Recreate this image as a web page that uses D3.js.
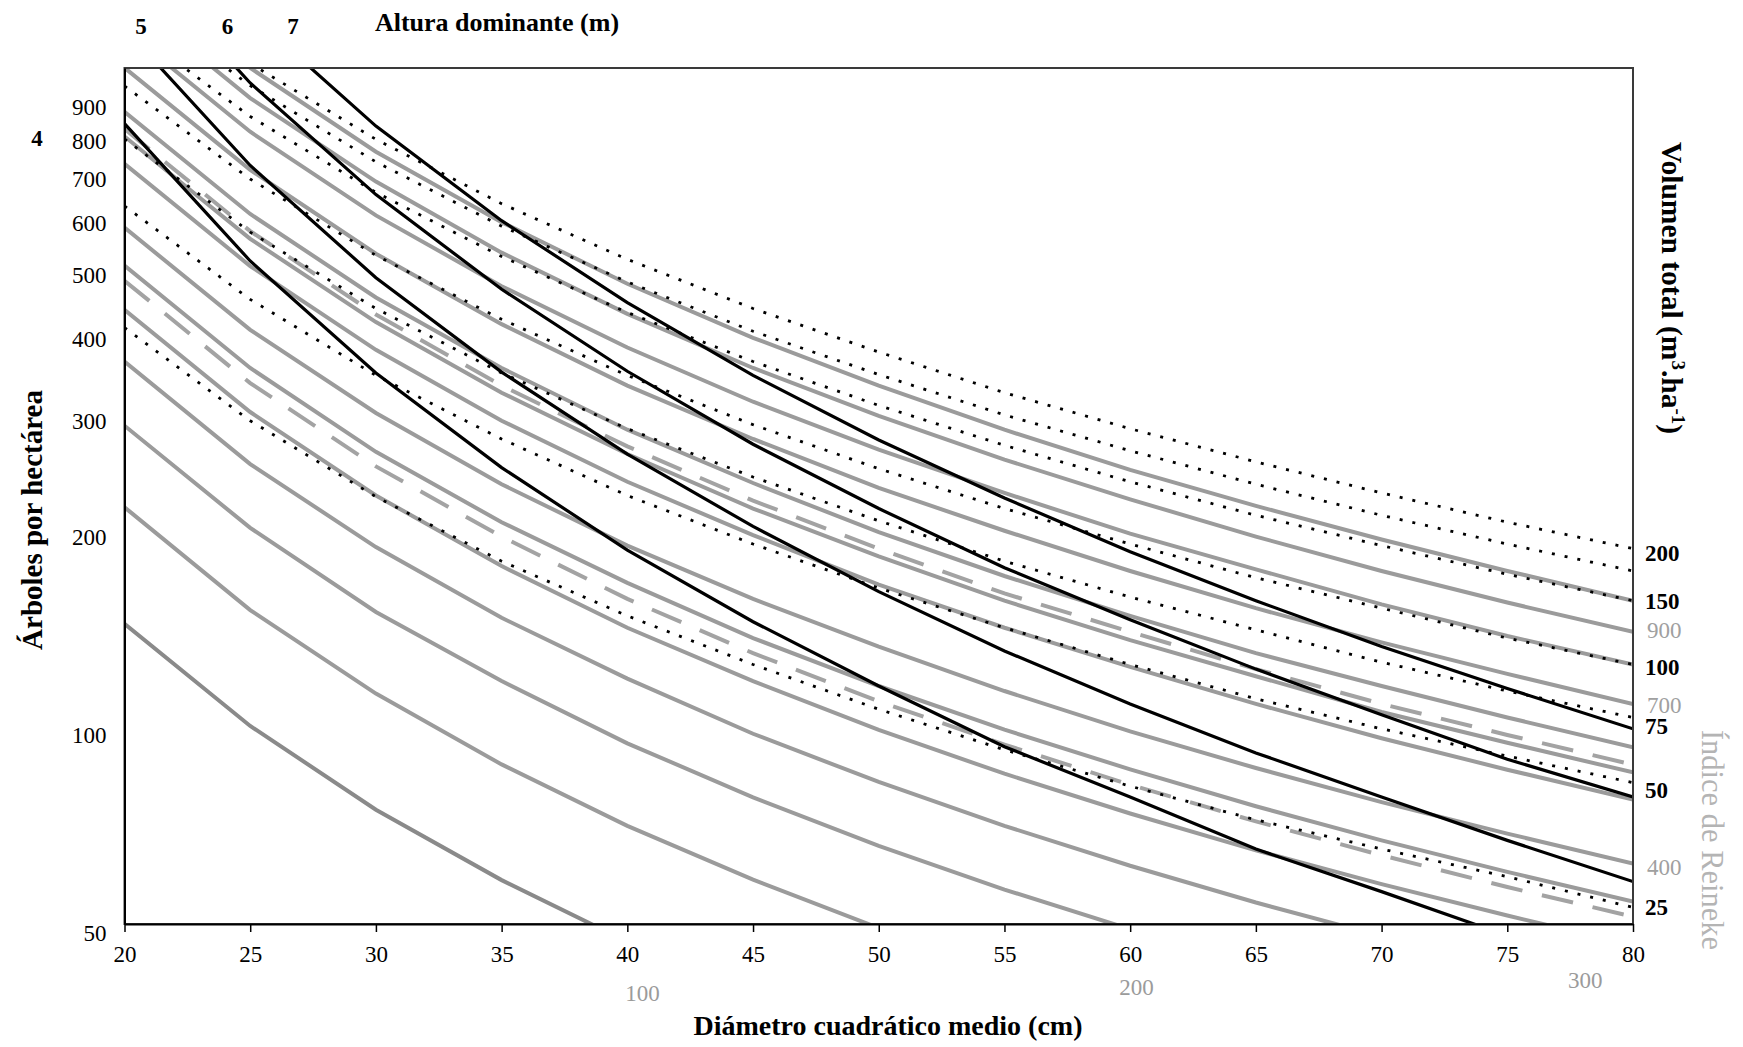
<!DOCTYPE html>
<html>
<head>
<meta charset="utf-8">
<script src="https://cdn.jsdelivr.net/npm/d3@7"></script>
<style>
  body { margin: 0; background: #fff; }
  svg text { font-family: "Liberation Serif", "Times New Roman", serif; }
</style>
</head>
<body>
<svg width="1743" height="1047"></svg>
<script>
// diámetro cuadrático medio (cm) where every curve was read
var dg = [20, 25, 30, 35, 40, 45, 50, 55, 60, 65, 70, 75, 80];
var yTicks = [50, 100, 200, 300, 400, 500, 600, 700, 800, 900];

// Reineke index lines (gray solid), trees/ha at each dg
var reinekeLines = [
    [143, 100, 74.6, 58.3, 47.0, 38.9, 32.9, 28.2, 24.5, 21.6, 19.2, 17.2, 15.5],
    [215, 150, 112, 87.4, 70.5, 58.4, 49.3, 42.3, 36.8, 32.4, 28.7, 25.7, 23.2],
    [286, 200, 149, 117, 94.1, 77.9, 65.7, 56.4, 49.1, 43.1, 38.3, 34.3, 30.9],
    [358, 250, 187, 146, 118, 97.3, 82.2, 70.5, 61.3, 53.9, 47.9, 42.9, 38.7],
    [429, 300, 224, 175, 141, 117, 98.6, 84.6, 73.6, 64.7, 57.5, 51.5, 46.4],
    [501, 350, 261, 204, 165, 136, 115, 98.7, 85.9, 75.5, 67.0, 60.0, 54.1],
    [572, 400, 299, 233, 188, 156, 132, 113, 98.1, 86.3, 76.6, 68.6, 61.8],
    [715, 500, 373, 291, 235, 195, 164, 141, 123, 108, 95.8, 85.8, 77.3],
    [787, 550, 411, 321, 259, 214, 181, 155, 135, 119, 105, 94.3, 85.0],
    [858, 600, 448, 350, 282, 234, 197, 169, 147, 129, 115, 103, 92.8],
    [1001, 700, 522, 408, 329, 273, 230, 198, 172, 151, 134, 120, 108],
    [1144, 800, 597, 466, 376, 311, 263, 226, 196, 173, 153, 137, 124],
    [1288, 900, 672, 524, 423, 350, 296, 254, 221, 194, 172, 154, 139],
    [1431, 1000, 746, 583, 470, 389, 329, 282, 245, 216, 192, 172, 155]
];

// gray dashed lines
var dashedLines = [
    [808, 565, 422, 329, 266, 220, 186, 159, 139, 122, 108, 96.9, 87.3],
    [475, 332, 248, 194, 156, 129, 109, 93.7, 81.4, 71.6, 63.6, 56.9, 51.3]
];

// altura dominante (black solid)
var heightLabels = ["4", "5", "6", "7"];
var heightLines = [
    [823, 509, 344, 247, 185, 144, 115, 93, 78, 65, 56, 48, 42],
    [1148, 711, 480, 345, 259, 201, 160, 130, 108, 91, 78, 67, 58],
    [1534, 949, 642, 461, 346, 268, 214, 174, 145, 122, 104, 89, 78],
    [1952, 1208, 816, 586, 440, 341, 272, 222, 184, 155, 132, 114, 99]
];
var heightTopDg = [20.66, 24.1, 26.7];   // where 5, 6, 7 are written above the frame
var heightLeftN = 782;                  // where 4 is written left of the axis

// volumen total (black dotted)
var volumeLines = [
    [403, 291, 223, 178, 147, 124, 106, 92, 81, 72, 65, 59, 53],
    [617, 445, 341, 273, 224, 189, 162, 141, 124, 110, 99, 90, 82],
    [780, 563, 431, 344, 283, 239, 205, 178, 157, 140, 125, 113, 103],
    [939, 678, 519, 415, 341, 287, 246, 214, 189, 168, 151, 136, 124],
    [1169, 844, 647, 517, 425, 358, 307, 267, 235, 209, 188, 170, 155],
    [1302, 940, 720, 575, 473, 398, 342, 297, 262, 233, 209, 189, 172],
    [1408, 1016, 779, 622, 512, 431, 370, 321, 283, 252, 226, 204, 186]
];
var volumeLabels = ["200", "150", "100", "75", "50", "25"];
var volumeLabelN = [183, 155, 123, 100, 80, 53];

var reinekeRightLabels = ["900", "700", "400"];
var reinekeRightN = [140, 107.5, 61];
var reinekeBottomLabels = ["100", "200", "300"];
var reinekeBottomDg = [40.6, 60.25, 78.1];

var svg = d3.select("svg");
var x = d3.scaleLinear().domain([20, 80]).range([124.5, 1633]);
var y = d3.scaleLog().domain([50, 1000]).range([924, 68]);

svg.append("clipPath").attr("id", "plot")
    .append("rect")
    .attr("x", x(20)).attr("y", y(1000))
    .attr("width", x(80) - x(20)).attr("height", y(50) - y(1000));

var line = d3.line()
    .x(function (d, i) { return x(dg[i]); })
    .y(function (d) { return y(d); });

var plot = svg.append("g").attr("clip-path", "url(#plot)");

plot.selectAll("path.reineke").data(reinekeLines).enter().append("path")
    .attr("class", "reineke")
    .attr("d", line)
    .attr("fill", "none")
    .attr("stroke", function (d, i) { return i === 0 ? "#8a8a8a" : "#9b9b9b"; })
    .attr("stroke-width", 4);

plot.selectAll("path.dashed").data(dashedLines).enter().append("path")
    .attr("class", "dashed")
    .attr("d", line)
    .attr("fill", "none")
    .attr("stroke", "#a3a3a3")
    .attr("stroke-width", 4)
    .attr("stroke-dasharray", "32,20");

plot.selectAll("path.height").data(heightLines).enter().append("path")
    .attr("class", "height")
    .attr("d", line)
    .attr("fill", "none")
    .attr("stroke", "#000")
    .attr("stroke-width", 3.2);

plot.selectAll("path.volume").data(volumeLines).enter().append("path")
    .attr("class", "volume")
    .attr("d", line)
    .attr("fill", "none")
    .attr("stroke", "#000")
    .attr("stroke-width", 2.8)
    .attr("stroke-dasharray", "3,10");

// frame
svg.append("rect")
    .attr("x", x(20)).attr("y", y(1000))
    .attr("width", x(80) - x(20)).attr("height", y(50) - y(1000))
    .attr("fill", "none")
    .attr("stroke", "#3a3a3a")
    .attr("stroke-width", 2);

var xAxis = svg.append("g")
    .attr("transform", "translate(0," + y(50) + ")")
    .call(d3.axisBottom(x).tickValues(dg).tickSize(8).tickSizeOuter(0).tickPadding(14));
xAxis.select(".domain").attr("stroke", "#000").attr("stroke-width", 2);
xAxis.selectAll(".tick line").attr("stroke", "#000").attr("stroke-width", 1.5);
xAxis.selectAll("text").attr("font-size", 23).attr("font-family", "Liberation Serif").attr("fill", "#000");

var yAxis = svg.append("g")
    .attr("transform", "translate(" + x(20) + ",0)")
    .call(d3.axisLeft(y).tickValues(yTicks).tickFormat(d3.format("d")).tickSize(0).tickPadding(18));
yAxis.select(".domain").attr("stroke", "#000").attr("stroke-width", 2);
yAxis.selectAll("text").attr("font-size", 23).attr("font-family", "Liberation Serif")
    .attr("fill", "#000").attr("dy", "0.72em");

// height labels
svg.selectAll("text.htop").data(heightTopDg).enter().append("text")
    .attr("class", "htop")
    .attr("x", function (d) { return x(d); })
    .attr("y", 34)
    .attr("text-anchor", "middle")
    .attr("font-size", 23).attr("font-weight", "bold")
    .text(function (d, i) { return heightLabels[i + 1]; });

svg.append("text")
    .attr("x", 37).attr("y", y(heightLeftN) + 8)
    .attr("text-anchor", "middle")
    .attr("font-size", 23).attr("font-weight", "bold")
    .text(heightLabels[0]);

// volume labels (right)
svg.selectAll("text.vol").data(volumeLabelN).enter().append("text")
    .attr("class", "vol")
    .attr("x", x(80) + 12)
    .attr("y", function (d) { return y(d) + 8; })
    .attr("font-size", 23).attr("font-weight", "bold")
    .text(function (d, i) { return volumeLabels[i]; });

// reineke labels
svg.selectAll("text.rright").data(reinekeRightN).enter().append("text")
    .attr("class", "rright")
    .attr("x", x(80) + 14)
    .attr("y", function (d) { return y(d) + 8; })
    .attr("font-size", 23).attr("fill", "#a0a0a0")
    .text(function (d, i) { return reinekeRightLabels[i]; });

svg.selectAll("text.rbottom").data(reinekeBottomDg).enter().append("text")
    .attr("class", "rbottom")
    .attr("x", function (d) { return x(d); })
    .attr("y", function (d, i) { return 1001 - i * 6.5; })
    .attr("text-anchor", "middle")
    .attr("font-size", 23).attr("fill", "#9b9b9b")
    .text(function (d, i) { return reinekeBottomLabels[i]; });

// axis titles
svg.append("text")
    .attr("x", 497).attr("y", 31)
    .attr("text-anchor", "middle")
    .attr("font-size", 26).attr("font-weight", "bold")
    .text("Altura dominante (m)");

svg.append("text")
    .attr("x", 888).attr("y", 1035)
    .attr("text-anchor", "middle")
    .attr("font-size", 28).attr("font-weight", "bold")
    .text("Diámetro cuadrático medio (cm)");

svg.append("text")
    .attr("transform", "translate(42,520) rotate(-90)")
    .attr("text-anchor", "middle")
    .attr("font-size", 29).attr("font-weight", "bold")
    .text("Árboles por hectárea");

var vt = svg.append("text")
    .attr("transform", "translate(1662,288) rotate(90)")
    .attr("text-anchor", "middle")
    .attr("font-size", 29.5).attr("font-weight", "bold");
vt.append("tspan").text("Volumen total (m");
vt.append("tspan").attr("dy", -10).attr("font-size", 19).text("3");
vt.append("tspan").attr("dy", 10).text(".ha");
vt.append("tspan").attr("dy", -10).attr("font-size", 19).text("-1");
vt.append("tspan").attr("dy", 10).text(")");

svg.append("text")
    .attr("transform", "translate(1702,840) rotate(90)")
    .attr("text-anchor", "middle")
    .attr("font-size", 30.5).attr("fill", "#b4b4b4")
    .text("Índice de Reineke");
</script>
</body>
</html>
